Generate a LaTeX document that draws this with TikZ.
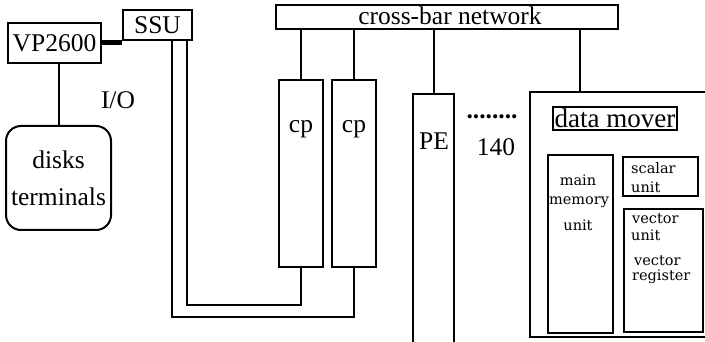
\documentclass[tikz,border=0pt]{standalone}
\usepackage{fontspec}
\setmainfont{Liberation Serif}
\newfontfamily\smallserif{DejaVu Serif}
\begin{document}
\begin{tikzpicture}[x=1pt,y=-1pt,
  box/.style={draw,line width=2pt,rectangle,inner sep=0pt},
  lbl/.style={inner sep=0pt,font=\fontsize{25.5}{28}\selectfont},
  slbl/.style={inner sep=0pt,font=\smallserif\fontsize{14.5}{16}\selectfont},
  wire/.style={line width=2pt}]
\useasboundingbox (0,0) rectangle (705,342);
\clip (0,0) rectangle (705,342);
% left side
\node[box,minimum width=93pt,minimum height=40pt,lbl] (vp) at (54.5,43) {VP2600};
\node[box,minimum width=69pt,minimum height=30pt,lbl] (ssu) at (157.5,25) {SSU};
\node[box,rounded corners=15pt,minimum width=105pt,minimum height=104pt] (disks) at (58.5,178) {};
\node[lbl] (disksT) at (58.5,160) {disks};
\node[lbl] (termT) at (58.5,197) {terminals};
\node[lbl] (io) at (118,100) {I/O};
% cross-bar
\node[box,minimum width=342pt,minimum height=24pt] (cb) at (447,17) {};
\node[lbl] (cbT) at (450,16) {cross-bar network};
% cp and PE
\node[box,minimum width=44pt,minimum height=187pt] (cp1) at (301,173.5) {};
\node[box,minimum width=44pt,minimum height=187pt] (cp2) at (354,173.5) {};
\node[lbl] (cp1T) at (301,129) {cp};
\node[lbl] (cp2T) at (354,129) {cp};
\node[box,minimum width=41pt,minimum height=280pt] (pe) at (433.5,234) {};
\node[lbl] (peT) at (434,141) {PE};
\node[lbl,font=\bfseries\fontsize{25.5}{28}\selectfont] (dots) at (492,117) {........};
\node[lbl] (num) at (496,147) {140};
% data mover block
\node[box,minimum width=190pt,minimum height=245pt] (dm) at (625,214.5) {};
\node[box,minimum width=124pt,minimum height=23pt,lbl,font=\fontsize{27}{28}\selectfont] (dmT) at (615,118.5) {data mover};
\node[box,minimum width=65pt,minimum height=178pt] (mm) at (580.5,244) {};
\node[box,minimum width=75pt,minimum height=39pt] (su) at (660.5,176.5) {};
\node[box,minimum width=79pt,minimum height=123pt] (vu) at (663.5,270.5) {};
\node[slbl] (mmA) at (578,180) {main};
\node[slbl] (mmB) at (579,202) {memory};
\node[slbl] (mmC) at (578,225) {unit};
\node[slbl,anchor=west] (suA) at (631,168) {scalar};
\node[slbl,anchor=west] (suB) at (631,187) {unit};
\node[slbl,anchor=west] (vuA) at (632,219) {vector};
\node[slbl,anchor=west] (vuB) at (631,235) {unit};
\node[slbl,anchor=west] (vuC) at (634,261) {vector};
\node[slbl,anchor=west] (vuD) at (632,277) {register};
% connectors
\draw[line width=5pt] (vp.east) -- (ssu.west |- vp.east);
\draw[wire] (disks.north) -- (disks.north |- vp.south);
\draw[wire] (cp1.north) -- (cp1.north |- cb.south);
\draw[wire] (cp2.north) -- (cp2.north |- cb.south);
\draw[wire] (pe.north) -- (pe.north |- cb.south);
\coordinate (dmtop) at (580,92);
\draw[wire] (dmtop) -- (dmtop |- cb.south);
\coordinate (ssuA) at (187,40);
\coordinate (ssuB) at (172,40);
\draw[wire] (ssuA) -- (187,305) -| (cp1.south);
\draw[wire] (ssuB) -- (172,317) -| (cp2.south);
\end{tikzpicture}
\end{document}
